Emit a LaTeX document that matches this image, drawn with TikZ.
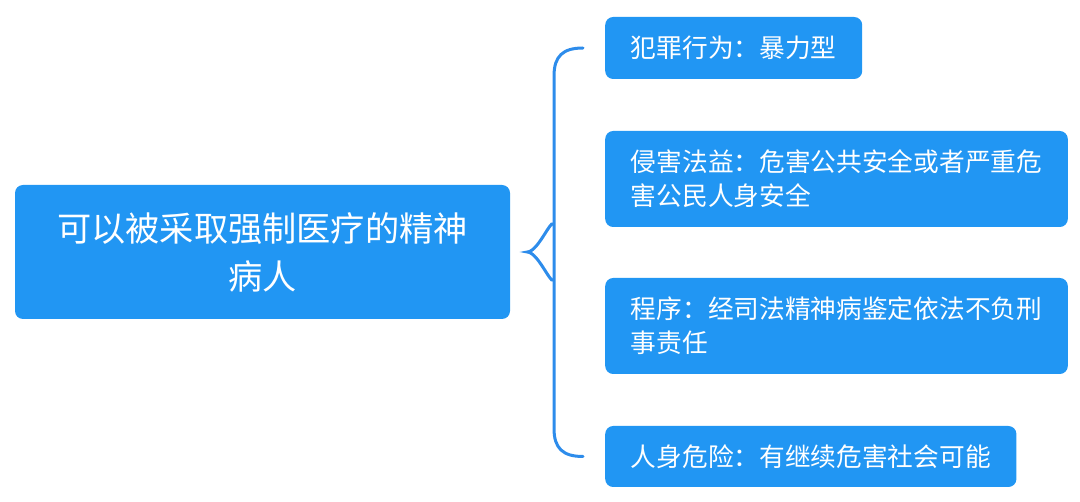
\documentclass[tikz,border=0pt]{standalone}
\usepackage{fontspec}
\usepackage{tikz}
\newfontfamily\cjk{Noto Sans CJK SC}
\definecolor{boxblue}{RGB}{33,150,243}
\definecolor{braceblue}{RGB}{45,140,235}
\newcommand{\drawbrace}{\draw[braceblue, line width=3pt, line cap=round]}
\tikzset{
  rootbox/.style={fill=boxblue, rounded corners=8pt, text=white, align=center,
    minimum width=495pt, minimum height=134pt, font=\cjk\fontsize{34.2}{48}\selectfont},
  leafbox/.style={fill=boxblue, rounded corners=8pt, text=white, align=left, anchor=west,
    inner xsep=25.7pt, font=\cjk\fontsize{25.7}{34}\selectfont},
}

\begin{document}
\begin{tikzpicture}[x=1pt, y=-1pt]
\useasboundingbox (0,0) rectangle (1080,502);
\node[rootbox] (root) at (262.5,252) {可以被采取强制医疗的精神\\病人};
    \node[leafbox, minimum height=62pt] (crime) at (605,48) {犯罪行为：暴力型};
    \node[leafbox, minimum height=96pt] (interest) at (605,179) {侵害法益：危害公共安全或者严重危\\害公民人身安全};
    \node[leafbox, minimum height=96pt] (procedure) at (605,326) {程序：经司法精神病鉴定依法不负刑\\事责任};
    \node[leafbox, minimum height=61pt] (danger) at (605,456.5) {人身危险：有继续危害社会可能};
\coordinate (tip) at ([xshift=17pt]root.east);
    \coordinate (top) at ([xshift=-22pt]crime.west);
    \coordinate (bottom) at ([xshift=-22pt]danger.west);
\drawbrace (top) .. controls ++(-20,0) and ++(0,-20) .. ([xshift=-29pt, yshift=-28pt]top)
    -- ([xshift=27pt, yshift=-24pt]tip) .. controls ++(0,18) and ++(12,0) .. (tip)
    .. controls ++(12,0) and ++(0,-18) .. ([xshift=27pt, yshift=24pt]tip)
    -- ([xshift=-29pt, yshift=28pt]bottom) .. controls ++(0,20) and ++(-20,0) .. (bottom);
\end{tikzpicture}
\end{document}
